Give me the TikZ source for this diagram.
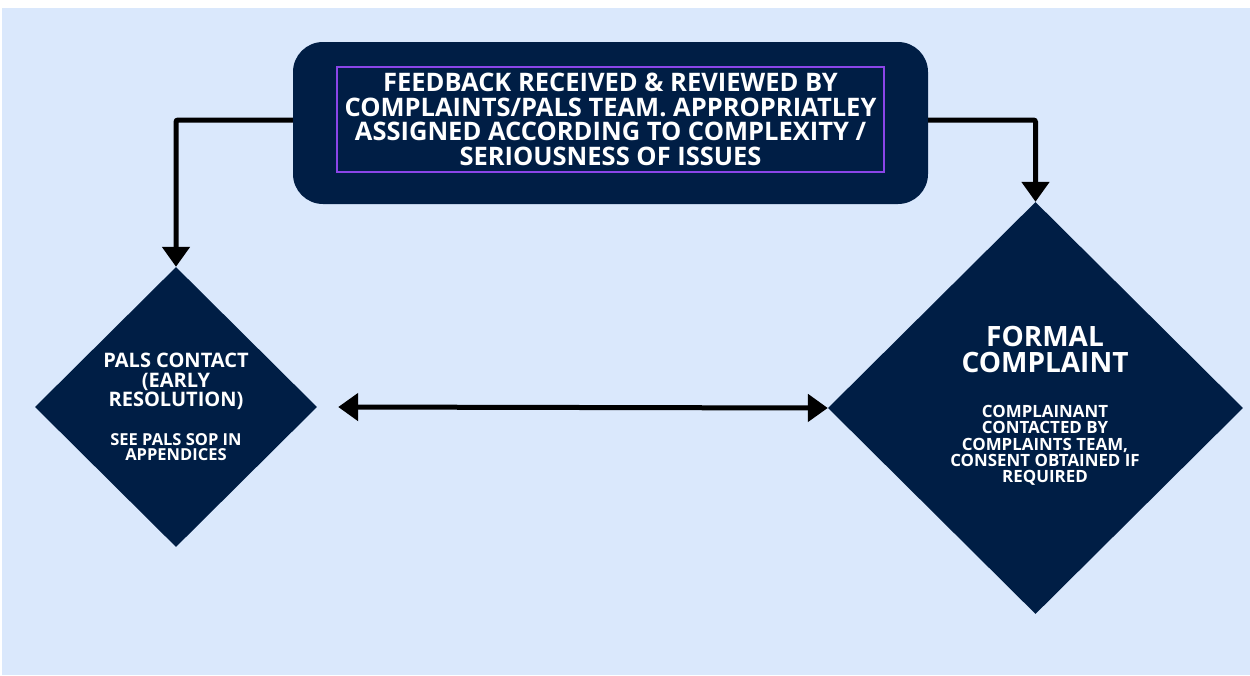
\documentclass[tikz,border=0pt]{standalone}
\usepackage{fontspec}
\setmainfont{Open Sans}
\usetikzlibrary{shapes.geometric, arrows.meta, positioning}
\definecolor{bgblue}{HTML}{DAE8FC}
\definecolor{navy}{HTML}{001E45}
\definecolor{boxpurple}{HTML}{8B45E8}
\newcommand{\palsnote}{\fontsize{16.5}{15}\selectfont}
\newcommand{\formalnote}{\fontsize{16.9}{16.25}\selectfont}

\begin{document}
\begin{tikzpicture}[x=1pt, y=-1pt]
		\tikzstyle{Box} = [rectangle, rounded corners=30pt, minimum width=635pt, minimum height=162pt, fill=navy, inner sep=0pt]
		\tikzstyle{Frame} = [rectangle, minimum width=547pt, minimum height=105pt, draw=boxpurple, line width=2.5pt, text=white, align=center, font=\bfseries\fontsize{25.5}{24.7}\selectfont]
		\tikzstyle{Diamond} = [diamond, fill=navy, text=white, align=center, inner sep=0pt]
		\tikzstyle{Label} = [text=white, align=center, inner sep=0pt]
		\tikzstyle{arrow} = [line width=5pt, rounded corners=2pt, -{Triangle[width=27pt, length=20pt]}]
		\tikzstyle{dblarrow} = [line width=5pt, {Triangle[width=27pt, length=20pt]}-{Triangle[width=27pt, length=20pt]}]
		
		\useasboundingbox (0,0) rectangle (1250,675);
		\fill [white] (0,0) rectangle (1250,675);
		\fill [bgblue] (2,8) rectangle (1250,675);
		
		\node (review) [Box] at (610.5,123) {};
		\node (reviewtext) [Frame] at (610.5,119.5) {FEEDBACK RECEIVED \& REVIEWED BY\\COMPLAINTS/PALS TEAM. APPROPRIATLEY\\ASSIGNED ACCORDING TO COMPLEXITY /\\SERIOUSNESS OF ISSUES};
		
		\node (pals) [Diamond, minimum width=282pt, minimum height=280pt, font=\bfseries\fontsize{20}{19.5}\selectfont] at (176,407) {PALS CONTACT\\(EARLY\\RESOLUTION)\\[19.5pt]\palsnote SEE PALS SOP IN\\[-4.5pt]\palsnote APPENDICES};
		
		\node (complaint) [Diamond, minimum width=415pt, minimum height=412pt] at (1035.5,408) {};
		\node (complainttext) [Label, font=\bfseries\fontsize{28}{26}\selectfont] at (1045,406) {FORMAL\\COMPLAINT\\[19pt]\formalnote COMPLAINANT\\[-9.75pt]\formalnote CONTACTED BY\\[-9.75pt]\formalnote COMPLAINTS TEAM,\\[-9.75pt]\formalnote CONSENT OBTAINED IF\\[-9.75pt]\formalnote REQUIRED};
		
		\draw [arrow] ([yshift=3pt]review.west) -| (pals.north);
		\draw [arrow] ([yshift=3pt]review.east) -| (complaint.north);
		\draw [dblarrow] ([xshift=21pt]pals.east) -- (complaint.west);
\end{tikzpicture}
\end{document}
